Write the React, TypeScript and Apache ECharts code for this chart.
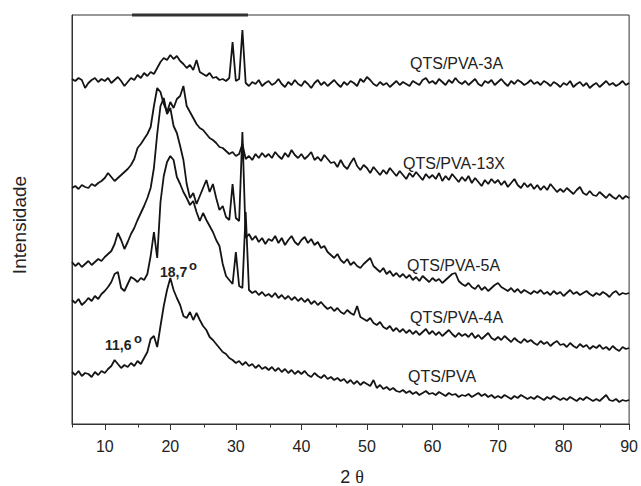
import React, { useEffect, useRef } from "react";
import * as echarts from "echarts";

// 2θ sampling: from 5° to 90° every 0.5°
const START_ANGLE = 5;
const STEP_ANGLE = 0.5;

const majorTicks = [10, 20, 30, 40, 50, 60, 70, 80, 90];
const minorTicks = [5, 15, 25, 35, 45, 55, 65, 75, 85];

const seriesNames = ["QTS/PVA-3A", "QTS/PVA-13X", "QTS/PVA-5A", "QTS/PVA-4A", "QTS/PVA"];

const qtsPva3A = [
  345, 343, 346, 344, 336, 341, 344, 346, 342, 345,
  343, 346, 341, 344, 347, 343, 338, 342, 346, 344,
  349, 346, 351, 348, 352, 350, 356, 362, 366, 364,
  369, 365, 368, 363, 360, 356, 359, 354, 364, 352,
  350, 348, 351, 346, 347, 344, 345, 343, 346, 382,
  343, 345, 394, 341, 338, 342, 340, 344, 338, 341,
  343, 339, 341, 345, 340, 337, 342, 339, 344, 340,
  338, 343, 340, 336, 341, 344, 339, 342, 338, 341,
  344, 340, 337, 342, 339, 343, 341, 338, 345, 342,
  347, 344, 340, 338, 342, 339, 341, 337, 340, 343,
  339, 342, 340, 338, 343, 341, 339, 344, 346, 341,
  343, 340, 345, 342, 339, 344, 341, 346, 342, 340,
  343, 339, 342, 345, 340, 338, 343, 341, 344, 339,
  342, 345, 341, 338, 343, 340, 344, 342, 339, 341,
  344, 340, 342, 339, 343, 341, 338, 342, 340, 337,
  341, 339, 343, 337, 340, 342, 338, 341, 336, 339,
  341, 337, 340, 343, 339, 341, 338, 340, 343, 339,
  341,
];

const qtsPva13X = [
  236, 238, 235, 239, 237, 236, 240, 238, 241, 243,
  246, 251, 247, 243, 246, 249, 252, 255, 259, 265,
  276, 280, 285, 290, 297, 318, 336, 332, 320, 312,
  322, 316, 325, 328, 338, 318, 312, 306, 300, 296,
  294, 290, 286, 284, 281, 277, 276, 273, 270, 272,
  268, 270, 280, 265, 268, 264, 270, 266, 271, 267,
  270, 266, 272, 268, 265, 271, 267, 274, 269, 266,
  270, 265, 268, 272, 264, 267, 263, 269, 265, 261,
  262, 257, 264, 258, 255, 261, 266, 258, 254, 259,
  256, 251, 257, 253, 249, 254, 250, 256, 252, 248,
  253, 249, 245, 251, 247, 252, 248, 244, 250, 246,
  249, 245, 251, 243, 248, 244, 250, 246, 242, 247,
  243, 248, 241, 246, 242, 238, 244, 240, 245, 241,
  244, 239, 243, 237, 241, 245, 239, 236, 241, 237,
  240, 235, 239, 234, 238, 234, 240, 236, 232, 235,
  232, 236, 233, 230, 234, 237, 231, 229, 233, 229,
  228, 232, 229, 226, 230, 227, 225, 229, 225, 228,
  226,
];

const qtsPva5A = [
  162, 158, 161, 157, 160, 163, 159, 162, 165, 163,
  167, 170, 173, 180, 191, 184, 175, 182, 190, 196,
  204, 211, 218, 226, 236, 256, 290, 318, 326, 310,
  316, 298, 291, 278, 264, 240, 226, 231, 220, 228,
  236, 244, 232, 240, 226, 214, 218, 207, 204, 240,
  206, 203, 292, 186, 190, 184, 188, 182, 186, 180,
  185, 183, 188, 181, 186, 179, 184, 188, 182, 179,
  184, 187, 181, 185, 179, 182, 176, 178, 172, 169,
  166, 170, 164, 161, 165, 159, 162, 158, 156, 160,
  163, 166, 158, 155, 152, 156, 150, 153, 148, 151,
  147, 150, 146, 149, 144, 147, 143, 148, 145, 142,
  146, 143, 145, 141, 144, 147, 150, 151, 143, 140,
  138, 141, 137, 135, 139, 134, 137, 133, 136, 139,
  141, 137, 135, 133, 136, 132, 135, 131, 134, 132,
  130, 133, 131, 134, 130, 132, 129, 133, 130, 132,
  128, 131, 134, 130, 132, 129, 131, 133, 130, 128,
  131, 129, 132, 130, 127, 131, 133, 129, 131, 130,
  131,
];

const qtsPva4A = [
  124, 121, 125, 119, 122, 126, 123, 128, 125, 130,
  133, 137, 142, 150, 152, 136, 133, 140, 147, 145,
  142, 146, 144, 150, 168, 192, 166, 222, 248, 262,
  268, 264, 247, 240, 232, 226, 219, 223, 212, 203,
  211, 204, 198, 192, 184, 178, 160, 148, 144, 140,
  172, 138, 136, 212, 134, 131, 133, 129, 132, 128,
  130, 127, 131, 126, 129, 125, 128, 124, 127, 123,
  126, 122, 125, 120, 123, 119, 122, 118, 115, 117,
  113, 116, 112, 110, 114, 111, 109, 118, 107, 105,
  103, 106, 101, 99, 102, 97, 95, 98, 93, 96,
  92, 95, 91, 94, 90, 93, 89, 92, 95, 90,
  93, 89, 92, 88, 91, 94, 90, 87, 91, 88,
  90, 87, 91, 86, 89, 85, 88, 91, 86, 84,
  87, 84, 88, 85, 82, 86, 83, 81, 85, 82,
  84, 81, 79, 83, 80, 82, 78, 81, 83, 79,
  80, 77, 81, 78, 76, 80, 77, 79, 75, 78,
  76, 79, 75, 77, 74, 78, 75, 73, 77, 75,
  76,
];

const qtsPva = [
  52, 49, 53, 48, 51, 50, 47, 52, 49, 53,
  51, 55, 58, 64, 60, 56, 59, 57, 61, 58,
  63, 60, 66, 72, 85, 88, 77, 98, 118, 134,
  146, 134, 126, 119, 108, 106, 112, 104, 111, 104,
  98, 94, 87, 84, 80, 76, 72, 70, 66, 64,
  61, 63, 59, 62, 58, 60, 56, 59, 55, 57,
  54, 57, 53, 56, 52, 55, 51, 54, 50, 53,
  50, 53, 49, 47, 51, 48, 46, 49, 45, 47,
  44, 46, 43, 45, 41, 44, 40, 43, 39, 42,
  40, 38, 44, 36, 39, 35, 37, 34, 36, 33,
  32, 34, 31, 33, 30, 32, 29, 31, 33, 30,
  31, 29, 32, 30, 28, 31, 29, 30, 27, 29,
  28, 30, 27, 29, 31, 28, 30, 27, 29, 26,
  28, 26, 29, 27, 25, 28, 26, 29, 27, 25,
  27, 25, 28, 26, 24, 27, 25, 28, 26, 24,
  26, 24, 27, 25, 23, 26, 24, 27, 25, 23,
  25, 23, 26, 29, 24, 23, 25, 22, 24, 23,
  24,
];

const allSeries = [qtsPva3A, qtsPva13X, qtsPva5A, qtsPva4A, qtsPva];

const FONT = "'Liberation Sans', Arial, Helvetica, sans-serif";
const INK = "#141414";

function toPairs(values: number[]) {
  return values.map((v, i) => [START_ANGLE + i * STEP_ANGLE, v]);
}

export default function App() {
  const ref = useRef<HTMLDivElement>(null);

  useEffect(() => {
    if (!ref.current) return;
    const chart = echarts.init(ref.current, null, { renderer: "svg" });
    const gridRect = { left: 72, right: 8, top: 15, bottom: 62 };

    const labelPos = [
      { x: 410, y: 63.5 },
      { x: 403, y: 163.5 },
      { x: 407, y: 265 },
      { x: 410, y: 317.5 },
      { x: 408, y: 376.5 },
    ];

    chart.setOption({
      animation: false,
      backgroundColor: "#ffffff",
      grid: [
        { ...gridRect, show: true, borderColor: "#333", borderWidth: 1, backgroundColor: "transparent" },
        { ...gridRect, show: false },
      ],
      xAxis: [
        {
          type: "value",
          gridIndex: 0,
          min: 5,
          max: 90,
          axisLine: { show: true, onZero: false, lineStyle: { color: "#333", width: 1 } },
          axisTick: { show: true, customValues: majorTicks, length: 6, lineStyle: { color: "#333" } },
          axisLabel: { customValues: majorTicks, fontSize: 16, color: "#222", margin: 14, fontFamily: FONT },
          splitLine: { show: false },
        },
        {
          type: "value",
          gridIndex: 1,
          min: 5,
          max: 90,
          position: "bottom",
          axisLine: { show: false },
          axisTick: { show: true, customValues: minorTicks, length: 3.5, lineStyle: { color: "#333" } },
          axisLabel: { show: false },
          splitLine: { show: false },
        },
      ],
      yAxis: [
        {
          type: "value",
          gridIndex: 0,
          min: 0,
          max: 409,
          axisLine: { show: true, onZero: false, lineStyle: { color: "#333", width: 1 } },
          axisTick: { show: false },
          axisLabel: { show: false },
          splitLine: { show: false },
        },
        {
          type: "value",
          gridIndex: 1,
          min: 0,
          max: 409,
          show: false,
        },
      ],
      series: allSeries.map((vals, i) => ({
        name: seriesNames[i],
        type: "line",
        xAxisIndex: 0,
        yAxisIndex: 0,
        data: toPairs(vals),
        showSymbol: false,
        symbol: "none",
        silent: true,
        lineStyle: { color: INK, width: 1.8 },
      })),
      graphic: [
        ...seriesNames.map((name, i) => ({
          type: "text",
          x: labelPos[i].x,
          y: labelPos[i].y,
          style: {
            text: name,
            fill: "#222",
            font: `16px ${FONT}`,
            textAlign: "left",
            textVerticalAlign: "middle",
          },
        })),
        {
          type: "text",
          x: 160,
          y: 272,
          style: { text: "18,7", fill: "#222", font: `bold 14px ${FONT}`, textAlign: "left", textVerticalAlign: "middle" },
        },
        {
          type: "text",
          x: 189,
          y: 265,
          style: { text: "o", fill: "#222", font: `bold 13px ${FONT}`, textAlign: "left", textVerticalAlign: "middle" },
        },
        {
          type: "text",
          x: 105,
          y: 345,
          style: { text: "11,6", fill: "#222", font: `bold 14px ${FONT}`, textAlign: "left", textVerticalAlign: "middle" },
        },
        {
          type: "text",
          x: 134,
          y: 338,
          style: { text: "o", fill: "#222", font: `bold 13px ${FONT}`, textAlign: "left", textVerticalAlign: "middle" },
        },
        {
          type: "text",
          x: 19,
          y: 225,
          rotation: Math.PI / 2,
          style: { text: "Intensidade", fill: "#222", font: `19px ${FONT}`, textAlign: "center", textVerticalAlign: "middle" },
        },
        {
          type: "text",
          x: 352,
          y: 477,
          style: {
            text: "{a|2 }{b|θ}",
            textAlign: "center",
            textVerticalAlign: "middle",
            rich: {
              a: { fontSize: 18, fontFamily: FONT, fill: "#222", color: "#222" },
              b: { fontSize: 18, fontFamily: "'Liberation Serif', 'DejaVu Serif', serif", fill: "#222", color: "#222" },
            },
          },
        },
        {
          type: "rect",
          shape: { x: 132, y: 13.5, width: 116, height: 3 },
          style: { fill: "#333" },
          silent: true,
        },
      ],
    });

    return () => chart.dispose();
  }, []);

  return (
    <div
      ref={ref}
      style={{ position: "fixed", left: 0, top: 0, width: 641, height: 486, background: "#fff" }}
    />
  );
}
